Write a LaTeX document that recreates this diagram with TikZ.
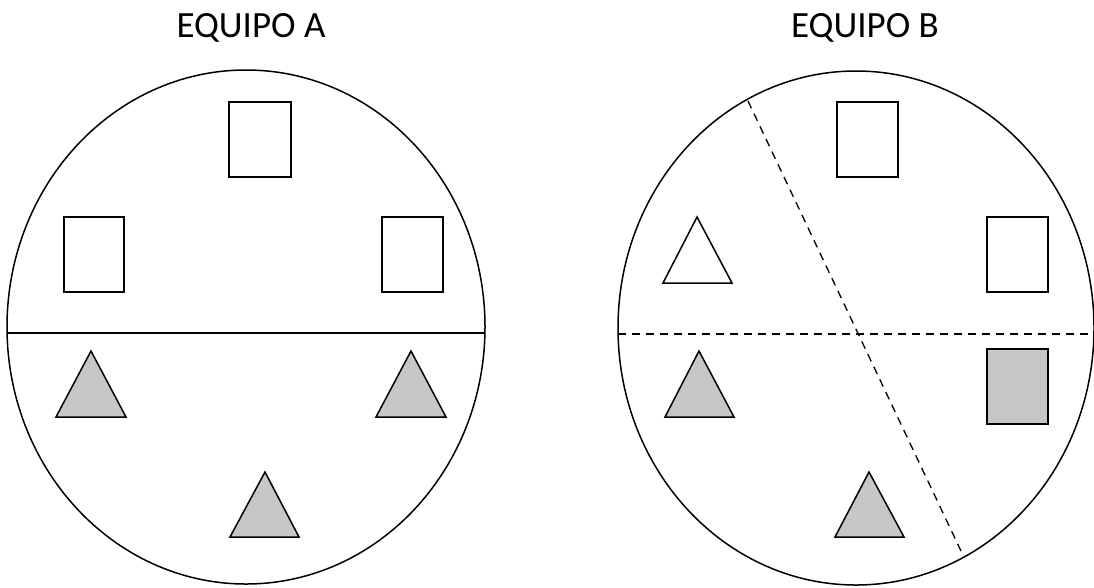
\documentclass[tikz,border=0pt]{standalone}
\usepackage{fontspec}
\setmainfont{Carlito}
\begin{document}
\begin{tikzpicture}[x=1pt,y=-1pt,
  outline/.style={draw=black,line width=1.5pt},
  divider/.style={draw=black,line width=1.5pt},
  splitline/.style={draw=black,line width=1.3pt,dash pattern=on 8pt off 6pt},
  player/.style={draw=black,line width=1.5pt,fill=white},
  shaded/.style={draw=black,line width=1.5pt,fill=black!22},
  title/.style={anchor=base,inner sep=0pt,font=\fontsize{37}{44}\selectfont}]
\useasboundingbox (0,0) rectangle (1094,587);

% titles
\node[title] (ta) at (251,37) {EQUIPO A};
\node[title] (tb) at (865,37) {EQUIPO B};

% team A field
\draw[outline] (246,327) ellipse [x radius=239, y radius=257];
\draw[divider] (7,333) -- (485,333);
\draw[player] (229,102) rectangle (291,177);
\draw[player] (64,217) rectangle (124,292);
\draw[player] (382,217) rectangle (443,292);
\draw[shaded] (91,351) -- (126,417) -- (56,417) -- cycle;
\draw[shaded] (411,351) -- (446,417) -- (376,417) -- cycle;
\draw[shaded] (265,472) -- (299,537) -- (230,537) -- cycle;

% team B field
\draw[outline] (856,328) ellipse [x radius=238, y radius=257];
\draw[splitline] (618,334) -- (1091,334);
\draw[splitline] (748,101) -- (961,551);
\draw[player] (837,102) rectangle (898,177);
\draw[player] (987,217) rectangle (1048,292);
\draw[shaded] (987,349) rectangle (1048,424);
\draw[player] (697,217) -- (732,283) -- (663,283) -- cycle;
\draw[shaded] (699,351) -- (734,417) -- (665,417) -- cycle;
\draw[shaded] (869,472) -- (904,537) -- (835,537) -- cycle;
\end{tikzpicture}
\end{document}
